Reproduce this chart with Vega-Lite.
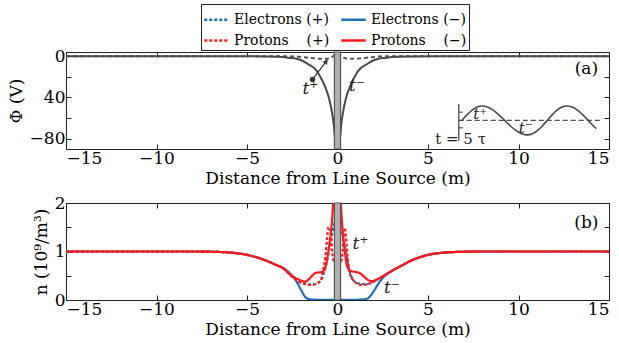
{
  "$schema": "https://vega.github.io/schema/vega-lite/v6.json",
  "padding": {"left": 6, "top": 3, "right": 5, "bottom": 5},
  "background": "white",
  "spacing": 54,
  "bounds": "flush",
  "config": {
    "font": "DejaVu Serif",
    "view": {"stroke": "#222", "strokeWidth": 1},
    "text": {"font": "DejaVu Serif"},
    "axis": {
      "labelFont": "DejaVu Serif", "labelFontSize": 17, "labelColor": "#000",
      "titleFont": "DejaVu Serif", "titleFontSize": 17, "titleFontWeight": "normal", "titleColor": "#000",
      "domainColor": "#222", "tickColor": "#222", "tickSize": -5, "grid": false, "labelPadding": 6, "titlePadding": 4
    },
    "legend": {
      "labelFont": "DejaVu Serif", "labelFontSize": 14, "labelColor": "#000"
    }
  },
  "datasets": {
    "potM": [
      {"x": -15, "phi": 0}, {"x": -6, "phi": 0}, {"x": -4, "phi": -0.3}, {"x": -3, "phi": -0.8}, {"x": -2.7, "phi": -1.5},
      {"x": -2.27, "phi": -2.5}, {"x": -2, "phi": -4}, {"x": -1.6, "phi": -8}, {"x": -1.2, "phi": -13}, {"x": -0.87, "phi": -22.6},
      {"x": -0.7, "phi": -29}, {"x": -0.5, "phi": -38.8}, {"x": -0.35, "phi": -50}, {"x": -0.22, "phi": -64.6}, {"x": -0.13, "phi": -80},
      {"x": -0.06, "phi": -89}, {"x": 0, "phi": -95}, {"x": 0.06, "phi": -89}, {"x": 0.13, "phi": -80}, {"x": 0.22, "phi": -64.6},
      {"x": 0.35, "phi": -50}, {"x": 0.5, "phi": -38.8}, {"x": 0.7, "phi": -29}, {"x": 0.87, "phi": -22.6}, {"x": 1.2, "phi": -13},
      {"x": 1.6, "phi": -8}, {"x": 2, "phi": -4}, {"x": 2.27, "phi": -2.5}, {"x": 2.7, "phi": -1.5}, {"x": 3, "phi": -0.8},
      {"x": 4, "phi": -0.3}, {"x": 6, "phi": 0}, {"x": 15, "phi": 0}
    ],
    "potP": [
      {"x": -15, "phi": 0}, {"x": -3, "phi": 0}, {"x": -2, "phi": -0.8}, {"x": -1.5, "phi": -1.8}, {"x": -1, "phi": -2.5},
      {"x": -0.6, "phi": -2.6}, {"x": -0.35, "phi": -1.5}, {"x": -0.2, "phi": 0.5}, {"x": 0, "phi": 2.5}, {"x": 0.2, "phi": 0.5},
      {"x": 0.35, "phi": -1.5}, {"x": 0.6, "phi": -2.6}, {"x": 1, "phi": -2.5}, {"x": 1.5, "phi": -1.8}, {"x": 2, "phi": -0.8},
      {"x": 3, "phi": 0}, {"x": 15, "phi": 0}
    ],
    "sine": [
      {"x": 6.87, "y": -62.3}, {"x": 7.145, "y": -56.98}, {"x": 7.42, "y": -52.47}, {"x": 7.69, "y": -49.46}, {"x": 7.97, "y": -48.3},
      {"x": 8.29, "y": -49.4}, {"x": 8.6, "y": -52.4}, {"x": 8.92, "y": -56.9}, {"x": 9.24, "y": -62.3}, {"x": 9.55, "y": -67.7},
      {"x": 9.87, "y": -72.2}, {"x": 10.18, "y": -75.2}, {"x": 10.5, "y": -76.3}, {"x": 10.77, "y": -75.2}, {"x": 11.04, "y": -72.2},
      {"x": 11.31, "y": -67.7}, {"x": 11.59, "y": -62.3}, {"x": 11.86, "y": -56.9}, {"x": 12.13, "y": -52.4}, {"x": 12.4, "y": -49.4},
      {"x": 12.67, "y": -48.3}, {"x": 12.96, "y": -49.4}, {"x": 13.26, "y": -52.4}, {"x": 13.55, "y": -56.9}, {"x": 13.85, "y": -62.3},
      {"x": 14.14, "y": -67.7}, {"x": 14.3, "y": -70.2}
    ],
    "midline": [{"x": 6.7, "y": -62.3}, {"x": 14.5, "y": -62.3}],
    "insetAxis": [{"x": 6.7, "y": -46.5, "y2": -82}],
    "insetTicks": [{"x": 6.7, "x2": 6.93, "y": -54.3}, {"x": 6.7, "x2": 6.93, "y": -69.5}],
    "insetLabels": [{"x": 7.88, "y": -56.5, "t": "t⁺"}, {"x": 10.4, "y": -69.5, "t": "t⁻"}],
    "insetTime": [{"x": 6.8, "y": -80.7, "t": "t = 5 τ"}],
    "barA": [{"x1": -0.17, "x2": 0.17, "y1": -90, "y2": 4}],
    "barB": [{"x1": -0.17, "x2": 0.17, "y1": 0, "y2": 2}],
    "arrow": [{"x": -1.38, "y": -22.6}, {"x": -0.58, "y": -4.2}],
    "arrowHead": [{"x": -0.62, "y": -5.2}],
    "dot": [{"x": -1.38, "y": -22.6}],
    "annA": [{"x": -1.5, "y": -32.3, "t": "t⁺"}, {"x": 1.07, "y": -29, "t": "t⁻"}],
    "labA": [{"x": 13.75, "y": -12.6, "t": "(a)"}],
    "annB": [{"x": 1.27, "y": 1.15, "t": "t⁺"}, {"x": 3.0, "y": 0.25, "t": "t⁻"}],
    "labB": [{"x": 13.75, "y": 1.59, "t": "(b)"}],
    "dens": [
      {"s": "Electrons (−)", "x": -15, "n": 1}, {"s": "Electrons (−)", "x": -10, "n": 1}, {"s": "Electrons (−)", "x": -8, "n": 1},
      {"s": "Electrons (−)", "x": -7, "n": 0.995}, {"s": "Electrons (−)", "x": -6, "n": 0.98}, {"s": "Electrons (−)", "x": -5, "n": 0.93},
      {"s": "Electrons (−)", "x": -4, "n": 0.82}, {"s": "Electrons (−)", "x": -3.5, "n": 0.74}, {"s": "Electrons (−)", "x": -3, "n": 0.66},
      {"s": "Electrons (−)", "x": -2.6, "n": 0.54}, {"s": "Electrons (−)", "x": -2.3, "n": 0.4}, {"s": "Electrons (−)", "x": -2.0, "n": 0.2},
      {"s": "Electrons (−)", "x": -1.8, "n": 0.07}, {"s": "Electrons (−)", "x": -1.6, "n": 0.02}, {"s": "Electrons (−)", "x": -1.2, "n": 0.006},
      {"s": "Electrons (−)", "x": -0.6, "n": 0.004}, {"s": "Electrons (−)", "x": 0, "n": 0.004}, {"s": "Electrons (−)", "x": 0.6, "n": 0.004},
      {"s": "Electrons (−)", "x": 1.2, "n": 0.006}, {"s": "Electrons (−)", "x": 1.5, "n": 0.015}, {"s": "Electrons (−)", "x": 1.7, "n": 0.04},
      {"s": "Electrons (−)", "x": 2.0, "n": 0.18}, {"s": "Electrons (−)", "x": 2.3, "n": 0.36}, {"s": "Electrons (−)", "x": 2.65, "n": 0.51},
      {"s": "Electrons (−)", "x": 3, "n": 0.6}, {"s": "Electrons (−)", "x": 3.5, "n": 0.7}, {"s": "Electrons (−)", "x": 4, "n": 0.8},
      {"s": "Electrons (−)", "x": 5, "n": 0.93}, {"s": "Electrons (−)", "x": 6, "n": 0.98}, {"s": "Electrons (−)", "x": 7, "n": 0.995},
      {"s": "Electrons (−)", "x": 8, "n": 1}, {"s": "Electrons (−)", "x": 10, "n": 1}, {"s": "Electrons (−)", "x": 15, "n": 1},

      {"s": "Electrons (+)", "x": -15, "n": 1}, {"s": "Electrons (+)", "x": -10, "n": 1}, {"s": "Electrons (+)", "x": -8, "n": 1},
      {"s": "Electrons (+)", "x": -7, "n": 0.995}, {"s": "Electrons (+)", "x": -6, "n": 0.98}, {"s": "Electrons (+)", "x": -5, "n": 0.93},
      {"s": "Electrons (+)", "x": -4, "n": 0.82}, {"s": "Electrons (+)", "x": -3.5, "n": 0.74}, {"s": "Electrons (+)", "x": -3, "n": 0.65},
      {"s": "Electrons (+)", "x": -2.6, "n": 0.52}, {"s": "Electrons (+)", "x": -2.3, "n": 0.43}, {"s": "Electrons (+)", "x": -2.0, "n": 0.37},
      {"s": "Electrons (+)", "x": -1.7, "n": 0.33}, {"s": "Electrons (+)", "x": -1.4, "n": 0.32}, {"s": "Electrons (+)", "x": -1.2, "n": 0.33},
      {"s": "Electrons (+)", "x": -1.0, "n": 0.37}, {"s": "Electrons (+)", "x": -0.85, "n": 0.45}, {"s": "Electrons (+)", "x": -0.7, "n": 0.62},
      {"s": "Electrons (+)", "x": -0.55, "n": 0.85}, {"s": "Electrons (+)", "x": -0.4, "n": 1.15}, {"s": "Electrons (+)", "x": -0.3, "n": 1.35},
      {"s": "Electrons (+)", "x": -0.2, "n": 1.55}, {"s": "Electrons (+)", "x": -0.1, "n": 1.63}, {"s": "Electrons (+)", "x": 0.1, "n": 1.63},
      {"s": "Electrons (+)", "x": 0.2, "n": 1.5}, {"s": "Electrons (+)", "x": 0.3, "n": 1.3}, {"s": "Electrons (+)", "x": 0.39, "n": 1.15},
      {"s": "Electrons (+)", "x": 0.5, "n": 0.9}, {"s": "Electrons (+)", "x": 0.6, "n": 0.7}, {"s": "Electrons (+)", "x": 0.75, "n": 0.5},
      {"s": "Electrons (+)", "x": 0.9, "n": 0.4}, {"s": "Electrons (+)", "x": 1.1, "n": 0.35}, {"s": "Electrons (+)", "x": 1.3, "n": 0.33},
      {"s": "Electrons (+)", "x": 1.6, "n": 0.33}, {"s": "Electrons (+)", "x": 2.0, "n": 0.38}, {"s": "Electrons (+)", "x": 2.4, "n": 0.46},
      {"s": "Electrons (+)", "x": 2.7, "n": 0.53}, {"s": "Electrons (+)", "x": 3, "n": 0.6}, {"s": "Electrons (+)", "x": 3.5, "n": 0.7},
      {"s": "Electrons (+)", "x": 4, "n": 0.8}, {"s": "Electrons (+)", "x": 5, "n": 0.93}, {"s": "Electrons (+)", "x": 6, "n": 0.98},
      {"s": "Electrons (+)", "x": 7, "n": 0.995}, {"s": "Electrons (+)", "x": 8, "n": 1}, {"s": "Electrons (+)", "x": 10, "n": 1},
      {"s": "Electrons (+)", "x": 15, "n": 1},

      {"s": "Protons (+)", "x": -15, "n": 1}, {"s": "Protons (+)", "x": -10, "n": 1}, {"s": "Protons (+)", "x": -8, "n": 1},
      {"s": "Protons (+)", "x": -7, "n": 0.995}, {"s": "Protons (+)", "x": -6, "n": 0.98}, {"s": "Protons (+)", "x": -5, "n": 0.93},
      {"s": "Protons (+)", "x": -4, "n": 0.82}, {"s": "Protons (+)", "x": -3.5, "n": 0.74}, {"s": "Protons (+)", "x": -3, "n": 0.65},
      {"s": "Protons (+)", "x": -2.6, "n": 0.51}, {"s": "Protons (+)", "x": -2.3, "n": 0.42}, {"s": "Protons (+)", "x": -2.0, "n": 0.35},
      {"s": "Protons (+)", "x": -1.7, "n": 0.32}, {"s": "Protons (+)", "x": -1.43, "n": 0.31}, {"s": "Protons (+)", "x": -1.2, "n": 0.33},
      {"s": "Protons (+)", "x": -1.0, "n": 0.38}, {"s": "Protons (+)", "x": -0.88, "n": 0.46}, {"s": "Protons (+)", "x": -0.78, "n": 0.65},
      {"s": "Protons (+)", "x": -0.68, "n": 0.87}, {"s": "Protons (+)", "x": -0.58, "n": 1.25}, {"s": "Protons (+)", "x": -0.5, "n": 1.5},
      {"s": "Protons (+)", "x": -0.42, "n": 1.48}, {"s": "Protons (+)", "x": -0.35, "n": 1.3}, {"s": "Protons (+)", "x": -0.28, "n": 0.95},
      {"s": "Protons (+)", "x": -0.2, "n": 0.8}, {"s": "Protons (+)", "x": 0.2, "n": 0.8}, {"s": "Protons (+)", "x": 0.28, "n": 1.0},
      {"s": "Protons (+)", "x": 0.34, "n": 1.35}, {"s": "Protons (+)", "x": 0.4, "n": 1.49}, {"s": "Protons (+)", "x": 0.47, "n": 1.3},
      {"s": "Protons (+)", "x": 0.57, "n": 0.85}, {"s": "Protons (+)", "x": 0.68, "n": 0.55}, {"s": "Protons (+)", "x": 0.79, "n": 0.45},
      {"s": "Protons (+)", "x": 1.0, "n": 0.36}, {"s": "Protons (+)", "x": 1.35, "n": 0.31}, {"s": "Protons (+)", "x": 1.7, "n": 0.33},
      {"s": "Protons (+)", "x": 2.0, "n": 0.38}, {"s": "Protons (+)", "x": 2.4, "n": 0.47}, {"s": "Protons (+)", "x": 2.7, "n": 0.53},
      {"s": "Protons (+)", "x": 3, "n": 0.6}, {"s": "Protons (+)", "x": 3.5, "n": 0.7}, {"s": "Protons (+)", "x": 4, "n": 0.8},
      {"s": "Protons (+)", "x": 5, "n": 0.93}, {"s": "Protons (+)", "x": 6, "n": 0.98}, {"s": "Protons (+)", "x": 7, "n": 0.995},
      {"s": "Protons (+)", "x": 8, "n": 1}, {"s": "Protons (+)", "x": 10, "n": 1}, {"s": "Protons (+)", "x": 15, "n": 1},

      {"s": "Protons (−)", "x": -15, "n": 1}, {"s": "Protons (−)", "x": -10, "n": 1}, {"s": "Protons (−)", "x": -8, "n": 1},
      {"s": "Protons (−)", "x": -7, "n": 0.995}, {"s": "Protons (−)", "x": -6, "n": 0.98}, {"s": "Protons (−)", "x": -5, "n": 0.93},
      {"s": "Protons (−)", "x": -4, "n": 0.82}, {"s": "Protons (−)", "x": -3.5, "n": 0.74}, {"s": "Protons (−)", "x": -3, "n": 0.65},
      {"s": "Protons (−)", "x": -2.6, "n": 0.52}, {"s": "Protons (−)", "x": -2.3, "n": 0.45}, {"s": "Protons (−)", "x": -2.0, "n": 0.4},
      {"s": "Protons (−)", "x": -1.8, "n": 0.38}, {"s": "Protons (−)", "x": -1.6, "n": 0.42}, {"s": "Protons (−)", "x": -1.4, "n": 0.5},
      {"s": "Protons (−)", "x": -1.2, "n": 0.56}, {"s": "Protons (−)", "x": -1.0, "n": 0.57}, {"s": "Protons (−)", "x": -0.8, "n": 0.59},
      {"s": "Protons (−)", "x": -0.65, "n": 0.7}, {"s": "Protons (−)", "x": -0.55, "n": 0.9}, {"s": "Protons (−)", "x": -0.45, "n": 1.15},
      {"s": "Protons (−)", "x": -0.35, "n": 1.45}, {"s": "Protons (−)", "x": -0.28, "n": 1.75}, {"s": "Protons (−)", "x": -0.22, "n": 2.1},
      {"s": "Protons (−)", "x": 0.15, "n": 2.1}, {"s": "Protons (−)", "x": 0.25, "n": 1.6}, {"s": "Protons (−)", "x": 0.33, "n": 1.22},
      {"s": "Protons (−)", "x": 0.42, "n": 0.95}, {"s": "Protons (−)", "x": 0.5, "n": 0.74}, {"s": "Protons (−)", "x": 0.65, "n": 0.62},
      {"s": "Protons (−)", "x": 0.8, "n": 0.59}, {"s": "Protons (−)", "x": 1.0, "n": 0.58}, {"s": "Protons (−)", "x": 1.25, "n": 0.55},
      {"s": "Protons (−)", "x": 1.5, "n": 0.47}, {"s": "Protons (−)", "x": 1.7, "n": 0.41}, {"s": "Protons (−)", "x": 1.9, "n": 0.39},
      {"s": "Protons (−)", "x": 2.2, "n": 0.43}, {"s": "Protons (−)", "x": 2.6, "n": 0.51}, {"s": "Protons (−)", "x": 3, "n": 0.6},
      {"s": "Protons (−)", "x": 3.5, "n": 0.7}, {"s": "Protons (−)", "x": 4, "n": 0.8}, {"s": "Protons (−)", "x": 5, "n": 0.93},
      {"s": "Protons (−)", "x": 6, "n": 0.98}, {"s": "Protons (−)", "x": 7, "n": 0.995}, {"s": "Protons (−)", "x": 8, "n": 1},
      {"s": "Protons (−)", "x": 10, "n": 1}, {"s": "Protons (−)", "x": 15, "n": 1}
    ]
  },
  "vconcat": [
    {
      "width": 543, "height": 97,
      "resolve": {"axis": {"x": "independent", "y": "independent"}},
      "layer": [
        {
          "data": {"name": "potP"},
          "mark": {"type": "line", "color": "#555", "strokeWidth": 2, "strokeDash": [4, 3], "clip": true, "interpolate": "monotone"},
          "encoding": {
            "x": {"field": "x", "type": "quantitative", "scale": {"domain": [-15, 15], "nice": false},
                  "axis": {"orient": "bottom", "values": [-15, -10, -5, 0, 5, 10, 15], "title": "Distance from Line Source (m)"}},
            "y": {"field": "phi", "type": "quantitative", "scale": {"domain": [-90, 4], "nice": false, "zero": false},
                  "axis": {"orient": "left", "values": [0, -20, -40, -60, -80], "title": "Φ (V)",
                           "labelExpr": "datum.value == 0 ? '0' : datum.value == -40 ? '40' : datum.value == -80 ? '−80' : ''"}}
          }
        },
        {
          "data": {"name": "potM"},
          "mark": {"type": "line", "color": "#4a4a4a", "strokeWidth": 2, "clip": true, "interpolate": "monotone"},
          "encoding": {
            "x": {"field": "x", "type": "quantitative", "axis": null},
            "y": {"field": "phi", "type": "quantitative", "axis": null}
          }
        },
        {
          "data": {"name": "barA"},
          "mark": {"type": "rect", "fill": "#b0b0b0", "stroke": "#555", "strokeWidth": 1.2},
          "encoding": {
            "x": {"field": "x1", "type": "quantitative",
                  "axis": {"orient": "top", "values": [-15, -10, -5, 0, 5, 10, 15], "labels": false, "title": null}},
            "x2": {"field": "x2"},
            "y": {"field": "y1", "type": "quantitative",
                  "axis": {"orient": "right", "values": [0, -20, -40, -60, -80], "labels": false, "title": null}},
            "y2": {"field": "y2"}
          }
        },
        {
          "data": {"name": "sine"},
          "mark": {"type": "line", "color": "#4a4a4a", "strokeWidth": 1.6, "interpolate": "monotone"},
          "encoding": {
            "x": {"field": "x", "type": "quantitative", "axis": null},
            "y": {"field": "y", "type": "quantitative", "axis": null}
          }
        },
        {
          "data": {"name": "midline"},
          "mark": {"type": "line", "color": "#4a4a4a", "strokeWidth": 1.3, "strokeDash": [5, 3]},
          "encoding": {
            "x": {"field": "x", "type": "quantitative", "axis": null},
            "y": {"field": "y", "type": "quantitative", "axis": null}
          }
        },
        {
          "data": {"name": "insetAxis"},
          "mark": {"type": "rule", "color": "#4a4a4a", "strokeWidth": 1.3},
          "encoding": {
            "x": {"field": "x", "type": "quantitative", "axis": null},
            "y": {"field": "y", "type": "quantitative", "axis": null},
            "y2": {"field": "y2"}
          }
        },
        {
          "data": {"name": "insetTicks"},
          "mark": {"type": "rule", "color": "#4a4a4a", "strokeWidth": 1.2},
          "encoding": {
            "x": {"field": "x", "type": "quantitative", "axis": null},
            "x2": {"field": "x2"},
            "y": {"field": "y", "type": "quantitative", "axis": null}
          }
        },
        {
          "data": {"name": "insetLabels"},
          "mark": {"type": "text", "fontStyle": "italic", "fontSize": 15, "color": "#222"},
          "encoding": {
            "x": {"field": "x", "type": "quantitative", "axis": null},
            "y": {"field": "y", "type": "quantitative", "axis": null},
            "text": {"field": "t"}
          }
        },
        {
          "data": {"name": "insetTime"},
          "mark": {"type": "text", "fontSize": 15, "color": "#222"},
          "encoding": {
            "x": {"field": "x", "type": "quantitative", "axis": null},
            "y": {"field": "y", "type": "quantitative", "axis": null},
            "text": {"field": "t"}
          }
        },
        {
          "data": {"name": "arrow"},
          "mark": {"type": "line", "color": "#333", "strokeWidth": 1.2},
          "encoding": {
            "x": {"field": "x", "type": "quantitative", "axis": null},
            "y": {"field": "y", "type": "quantitative", "axis": null}
          }
        },
        {
          "data": {"name": "arrowHead"},
          "mark": {"type": "point", "shape": "triangle-up", "filled": true, "size": 30, "angle": 37, "color": "#333", "opacity": 1},
          "encoding": {
            "x": {"field": "x", "type": "quantitative", "axis": null},
            "y": {"field": "y", "type": "quantitative", "axis": null}
          }
        },
        {
          "data": {"name": "dot"},
          "mark": {"type": "point", "shape": "circle", "filled": true, "size": 30, "color": "#333", "opacity": 1},
          "encoding": {
            "x": {"field": "x", "type": "quantitative", "axis": null},
            "y": {"field": "y", "type": "quantitative", "axis": null}
          }
        },
        {
          "data": {"name": "annA"},
          "mark": {"type": "text", "fontStyle": "italic", "fontSize": 17, "color": "#222"},
          "encoding": {
            "x": {"field": "x", "type": "quantitative", "axis": null},
            "y": {"field": "y", "type": "quantitative", "axis": null},
            "text": {"field": "t"}
          }
        },
        {
          "data": {"name": "labA"},
          "mark": {"type": "text", "fontSize": 17, "color": "#000"},
          "encoding": {
            "x": {"field": "x", "type": "quantitative", "axis": null},
            "y": {"field": "y", "type": "quantitative", "axis": null},
            "text": {"field": "t"}
          }
        }
      ]
    },
    {
      "width": 543, "height": 97,
      "resolve": {"axis": {"x": "independent", "y": "independent"}},
      "layer": [
        {
          "data": {"name": "dens"},
          "mark": {"type": "line", "strokeWidth": 2.2, "clip": true, "interpolate": "monotone"},
          "encoding": {
            "x": {"field": "x", "type": "quantitative", "scale": {"domain": [-15, 15], "nice": false},
                  "axis": {"orient": "bottom", "values": [-15, -10, -5, 0, 5, 10, 15], "title": "Distance from Line Source (m)"}},
            "y": {"field": "n", "type": "quantitative", "scale": {"domain": [0, 2], "nice": false},
                  "axis": {"orient": "left", "values": [0, 0.5, 1, 1.5, 2], "title": "n (10⁹/m³)",
                           "labelExpr": "datum.value % 1 == 0 ? format(datum.value, 'd') : ''"}},
            "color": {"field": "s", "type": "nominal",
                      "scale": {"domain": ["Electrons (+)", "Protons (+)", "Electrons (−)", "Protons (−)"], "range": ["#1f6fbf", "#ff1a1a", "#1f6fbf", "#ff1a1a"]},
                      "legend": {"orient": "none", "legendX": 135, "legendY": -48, "columns": 2, "title": null,
                                 "symbolType": "stroke", "symbolSize": 600, "symbolStrokeWidth": 2.5,
                                 "labelFontSize": 14, "strokeColor": "#222", "fillColor": "white",
                                 "padding": 2, "columnPadding": 6, "rowPadding": 0, "labelOffset": 4,
                                 "labelExpr": "datum.label == 'Protons (+)' ? 'Protons\u00a0\u00a0\u00a0\u00a0(+)' : datum.label == 'Protons (−)' ? 'Protons\u00a0\u00a0\u00a0\u00a0(−)' : datum.label"}},
            "strokeDash": {"field": "s", "type": "nominal",
                           "scale": {"domain": ["Electrons (+)", "Protons (+)", "Electrons (−)", "Protons (−)"], "range": [[3, 2], [3, 2], [1, 0], [1, 0]]}}
          }
        },
        {
          "data": {"name": "barB"},
          "mark": {"type": "rect", "fill": "#b0b0b0", "stroke": "#555", "strokeWidth": 1.2},
          "encoding": {
            "x": {"field": "x1", "type": "quantitative",
                  "axis": {"orient": "top", "values": [-15, -10, -5, 0, 5, 10, 15], "labels": false, "title": null}},
            "x2": {"field": "x2"},
            "y": {"field": "y1", "type": "quantitative",
                  "axis": {"orient": "right", "values": [0, 0.5, 1, 1.5, 2], "labels": false, "title": null}},
            "y2": {"field": "y2"}
          }
        },
        {
          "data": {"name": "annB"},
          "mark": {"type": "text", "fontStyle": "italic", "fontSize": 17, "color": "#222"},
          "encoding": {
            "x": {"field": "x", "type": "quantitative", "axis": null},
            "y": {"field": "y", "type": "quantitative", "axis": null},
            "text": {"field": "t"}
          }
        },
        {
          "data": {"name": "labB"},
          "mark": {"type": "text", "fontSize": 17, "color": "#000"},
          "encoding": {
            "x": {"field": "x", "type": "quantitative", "axis": null},
            "y": {"field": "y", "type": "quantitative", "axis": null},
            "text": {"field": "t"}
          }
        }
      ]
    }
  ]
}
